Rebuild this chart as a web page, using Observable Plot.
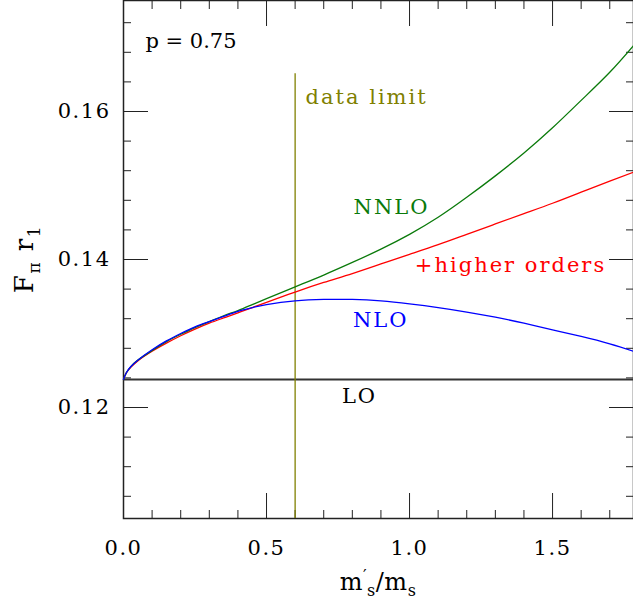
<!DOCTYPE html>
<html><head><meta charset="utf-8">
<script src="https://cdn.jsdelivr.net/npm/d3@7"></script>
<script src="https://cdn.jsdelivr.net/npm/@observablehq/plot@0.6"></script>
<style>
body{margin:0;background:#fff;}
#chart svg{display:block;}
#chart svg text{letter-spacing:1.5px;}
#chart svg g[aria-label="text"] text{letter-spacing:2px;}
</style></head><body><div id="chart"></div>
<script>
// x values: m'_s / m_s
const mRatio = [0, 0.01, 0.025, 0.05, 0.1, 0.15, 0.2, 0.25, 0.3, 0.35, 0.4, 0.45, 0.5, 0.6, 0.7, 0.8, 0.9, 1.0, 1.1, 1.2, 1.3, 1.4, 1.5, 1.6, 1.7, 1.783];
// F_pi r_1 at each order
const nloValues    = [0.1238, 0.1247, 0.1255, 0.1264, 0.1278, 0.1290, 0.1300, 0.1309, 0.1316, 0.1323, 0.1330, 0.1335, 0.1339, 0.1344, 0.1346, 0.1346, 0.1344, 0.1340, 0.1335, 0.1329, 0.1322, 0.1314, 0.1305, 0.1296, 0.1286, 0.1276];
const nnloValues   = [0.1238, 0.1247, 0.1255, 0.1264, 0.1277, 0.1289, 0.1299, 0.1308, 0.1316, 0.1324, 0.1331, 0.1339, 0.1347, 0.1363, 0.1379, 0.1396, 0.1414, 0.1434, 0.1457, 0.1484, 0.1513, 0.1544, 0.1578, 0.1615, 0.1653, 0.1689];
const higherValues = [0.1238, 0.1247, 0.1254, 0.1263, 0.1276, 0.1287, 0.1297, 0.1306, 0.1314, 0.1321, 0.1328, 0.1335, 0.1342, 0.1356, 0.1369, 0.1381, 0.1394, 0.1407, 0.1420, 0.1434, 0.1448, 0.1462, 0.1476, 0.1491, 0.1506, 0.1518];
const loValue = 0.1238;
const dataLimit = 0.6;
const dataLimitTop = 0.1651;

// axis ticks
const xMajorTicks = [0, 0.5, 1.0, 1.5];
const xMinorTicks = [0.1, 0.2, 0.3, 0.4, 0.6, 0.7, 0.8, 0.9, 1.1, 1.2, 1.3, 1.4, 1.6, 1.7];
const yMajorTicks = [0.12, 0.14, 0.16];
const yMinorTicks = [0.108, 0.112, 0.116, 0.124, 0.128, 0.132, 0.136, 0.144, 0.148, 0.152, 0.156, 0.164, 0.168, 0.172];

// annotations
const labelText  = ["NNLO", "+higher orders", "NLO", "LO", "data limit", "p = 0.75"];
const labelX     = [0.937, 1.353, 0.899, 0.825, 0.850, 0.236];
const labelY     = [0.1470, 0.1392, 0.1318, 0.1215, 0.1619, 0.1695];
const labelColor = ["#0a7a0a", "#ff0000", "#0000ff", "#000000", "#808000", "#000000"];

const toSeries = (vals) => mRatio.map((x, i) => ({x, y: vals[i]}));
const labels = labelText.map((t, i) => ({t, x: labelX[i], y: labelY[i], c: labelColor[i]}));

const W = 633, H = 603, ML = 123, MR = 0, MT = 0, MB = 85;
const ink = "#222";

const chart = Plot.plot({
  width: W, height: H,
  marginLeft: ML, marginRight: MR, marginTop: MT, marginBottom: MB,
  style: {fontFamily: "DejaVu Serif", fontSize: "21px", background: "#fff", color: ink},
  x: {domain: [0, 1.783]},
  y: {domain: [0.105, 0.175]},
  marks: [
    // inward ticks on all four sides
    Plot.axisX(xMinorTicks, {anchor: "bottom", tickSize: -8, tickFormat: () => "", label: null, stroke: ink}),
    Plot.axisX(xMajorTicks, {anchor: "bottom", tickSize: -25, tickFormat: () => "", label: null, stroke: ink}),
    Plot.axisX(xMinorTicks, {anchor: "top", tickSize: -8, tickFormat: () => "", label: null, stroke: ink}),
    Plot.axisX(xMajorTicks, {anchor: "top", tickSize: -25, tickFormat: () => "", label: null, stroke: ink}),
    Plot.axisY(yMinorTicks, {anchor: "left", tickSize: -8, tickFormat: () => "", label: null, stroke: ink}),
    Plot.axisY(yMajorTicks, {anchor: "left", tickSize: -25, tickFormat: () => "", label: null, stroke: ink}),
    Plot.axisY(yMinorTicks, {anchor: "right", tickSize: -8, tickFormat: () => "", label: null, stroke: ink}),
    Plot.axisY(yMajorTicks, {anchor: "right", tickSize: -25, tickFormat: () => "", label: null, stroke: ink}),
    // tick labels
    Plot.axisX(xMajorTicks, {anchor: "bottom", tickSize: 0, tickPadding: 22, tickFormat: d3.format(".1f"), label: null, fill: "#000"}),
    Plot.axisY(yMajorTicks, {anchor: "left", tickSize: 0, tickPadding: 13, tickFormat: d3.format(".2f"), label: null, fill: "#000"}),
    Plot.frame({stroke: ink, strokeWidth: 1.5}),
    Plot.ruleY([loValue], {stroke: "#333", strokeWidth: 2}),
    Plot.ruleX([dataLimit], {y1: 0.105, y2: dataLimitTop, stroke: "#808000", strokeWidth: 1.3}),
    Plot.line(toSeries(higherValues), {x: "x", y: "y", stroke: "#ff0000", strokeWidth: 1.3, curve: "natural"}),
    Plot.line(toSeries(nnloValues), {x: "x", y: "y", stroke: "#0a7a0a", strokeWidth: 1.3, curve: "natural"}),
    Plot.line(toSeries(nloValues), {x: "x", y: "y", stroke: "#0000ff", strokeWidth: 1.3, curve: "natural"}),
    Plot.text(labels, {x: "x", y: "y", text: "t", fill: "c", fontSize: 21})
  ]
});
document.getElementById("chart").appendChild(chart);

const svg = d3.select(chart);
// tighter spacing for the parameter label
svg.selectAll('g[aria-label="text"] text').filter(function () { return this.textContent === "p = 0.75"; })
  .style("letter-spacing", "0px");

// axis titles with sub/superscripts
const midY = MT + (H - MT - MB) / 2;
const midX = ML + (W - ML - MR) / 2;
const yl = svg.append("text")
  .attr("transform", `translate(33,${midY}) rotate(-90)`)
  .attr("text-anchor", "middle")
  .attr("fill", "#000")
  .style("font-size", "26px");
yl.append("tspan").text("F");
yl.append("tspan").attr("dy", 7).style("font-size", "17px").text("π");
yl.append("tspan").attr("dy", -7).text(" r");
yl.append("tspan").attr("dy", 7).style("font-size", "17px").text("1");

const xl = svg.append("text")
  .attr("x", midX).attr("y", 590)
  .attr("text-anchor", "middle")
  .attr("fill", "#000")
  .style("font-size", "24px")
  .style("letter-spacing", "0.5px");
xl.append("tspan").text("m");
xl.append("tspan").attr("dy", -9).style("font-size", "16px").text("′");
xl.append("tspan").attr("dy", 15).style("font-size", "16px").text("s");
xl.append("tspan").attr("dy", -6).text("/m");
xl.append("tspan").attr("dy", 6).style("font-size", "16px").text("s");
</script>
</body></html>
